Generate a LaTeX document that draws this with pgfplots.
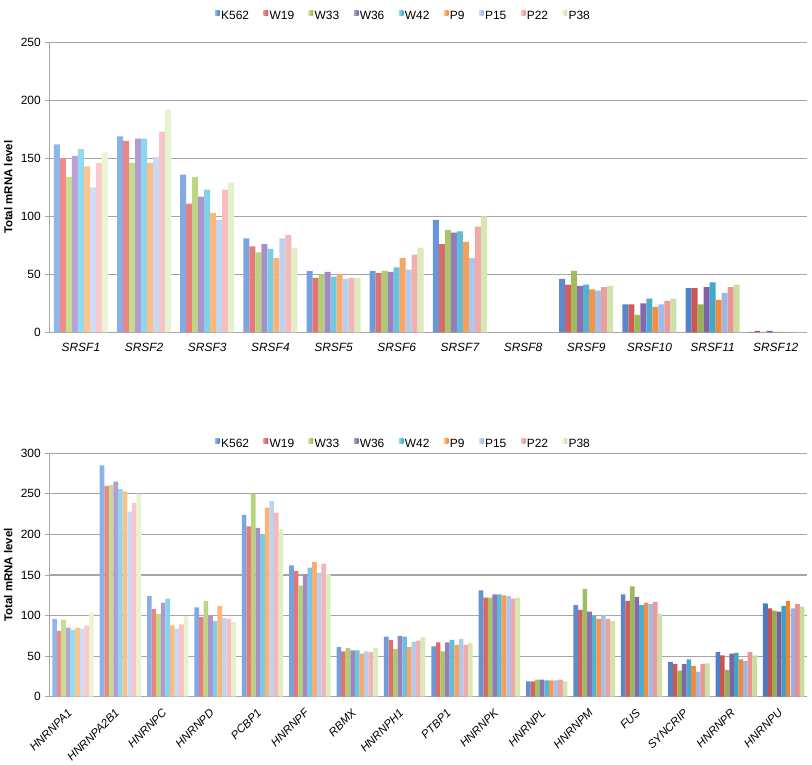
\documentclass[border=0pt]{standalone}
\usepackage{fontspec}
\setmainfont{Liberation Sans}
\usepackage{pgfplots}
\pgfplotsset{compat=1.18}
\usepackage{pgfplotstable}

\definecolor{gridc}{HTML}{A6A6A6}
\definecolor{Ka}{HTML}{8FB6EC}\definecolor{Kb}{HTML}{4A7BC4}
\definecolor{Aa}{HTML}{EE8C89}\definecolor{Ab}{HTML}{C8504C}
\definecolor{Ba}{HTML}{C8DF92}\definecolor{Bb}{HTML}{8FB04A}
\definecolor{Ca}{HTML}{B8A2D8}\definecolor{Cb}{HTML}{7A5CA2}
\definecolor{Da}{HTML}{92DCF2}\definecolor{Db}{HTML}{3AA2C4}
\definecolor{Ea}{HTML}{FDC48E}\definecolor{Eb}{HTML}{F28232}
\definecolor{Fa}{HTML}{CCDDF7}\definecolor{Fb}{HTML}{96B4E2}
\definecolor{Ga}{HTML}{F9CACA}\definecolor{Gb}{HTML}{E88F8F}
\definecolor{Ha}{HTML}{EBF5D4}\definecolor{Hb}{HTML}{C5DC9A}

\pgfplotsset{
  sK/.style={left color=Ka, right color=Kb, draw=none},
  sA/.style={left color=Aa, right color=Ab, draw=none},
  sB/.style={left color=Ba, right color=Bb, draw=none},
  sC/.style={left color=Ca, right color=Cb, draw=none},
  sD/.style={left color=Da, right color=Db, draw=none},
  sE/.style={left color=Ea, right color=Eb, draw=none},
  sF/.style={left color=Fa, right color=Fb, draw=none},
  sG/.style={left color=Ga, right color=Gb, draw=none},
  sH/.style={left color=Ha, right color=Hb, draw=none},
  common/.style={
    scale only axis,
    width=758bp,
    ybar=0pt,
    axis lines*=left,
    axis line style={-, draw=gridc, line width=1.2bp},
    ymajorgrids,
    grid style={draw=gridc, line width=1.2bp},
    ymin=0,
    xtick style={draw=none},
    minor tick length=4bp,
    minor tick style={draw=gridc, line width=1bp},
    ytick style={draw=gridc, line width=1bp},
    major tick length=4bp,
    tick align=outside,
    /pgf/number format/assume math mode=true,
    tick label style={font=\fontsize{12}{14}\selectfont},
    yticklabel style={xshift=-1bp},
    every axis y label/.style={at={(rel axis cs:0,0.5)}, xshift=-41bp, rotate=90, anchor=center, font=\fontsize{11.5}{13}\selectfont\bfseries},
    ylabel={Total mRNA level},
    legend columns=9,
    legend style={draw=none, fill=none, font=\fontsize{12}{14}\selectfont,
      /tikz/every even column/.append style={column sep=13bp},
      nodes={inner sep=1.5bp}},
    legend image code/.code={\path[##1] (0bp,0.5bp) rectangle (4.5bp,5bp);},
  }
}

\pgfplotstableread{
x K W19 W33 W36 W42 P9 P15 P22 P38
0 162 150 134 152 158 143 125 146 155
1 169 165 146 167 167 146 151 173 192
2 136 111 134 117 123 103 97 123 129
3 81 74 69 76 72 64 81 84 73
4 53 47 50 52 48 50 46 47 47
5 53 51 53 52 56 64 54 67 73
6 97 76 88 86 87 78 64 91 100
7 nan nan nan nan nan nan nan nan nan
8 46 41 53 40 41 37 36 39 40
9 24 24 15 25 29 22 24 27 29
10 38 38 24 39 43 28 34 39 41
11 0.3 1.2 0.3 1.2 0.3 0.3 0.3 0.3 0.3
}\srsf

\pgfplotstableread{
x K W19 W33 W36 W42 P9 P15 P22 P38
0 96 81 95 85 82 85 84 88 104
1 285 260 261 265 256 253 228 239 250
2 124 108 102 116 121 88 84 89 99
3 110 98 118 100 93 112 97 96 92
4 224 210 250 208 200 233 241 227 207
5 162 155 137 151 159 166 153 164 151
6 61 56 60 57 57 53 56 55 60
7 74 70 59 75 74 61 68 69 73
8 62 67 56 67 70 64 71 64 66
9 131 122 122 126 126 125 124 121 122
10 19 19 21 21 20 20 20 21 19
11 113 107 133 105 100 96 101 96 93
12 126 118 136 123 113 116 114 117 102
13 43 40 32 40 46 38 31 40 41
14 55 51 33 53 54 46 44 55 51
15 115 109 106 105 112 118 109 114 111
}\hnrnp

\begin{document}
\begin{tikzpicture}
\useasboundingbox (-49.3bp,-68.3bp) rectangle (762.7bp,696.7bp);
% top panel
\begin{axis}[common,
  at={(0bp,364.4bp)},
  height=290bp,
  ymax=250, ytick={0,50,...,250},
  xmin=-0.5, xmax=11.5,
  bar width=6bp,
  xtick={0,1,...,11},
  minor xtick={-0.5,0.5,...,11.5},
  xticklabels={SRSF1,SRSF2,SRSF3,SRSF4,SRSF5,SRSF6,SRSF7,SRSF8,SRSF9,SRSF10,SRSF11,SRSF12},
  xticklabel style={font=\fontsize{12}{14}\selectfont\itshape, yshift=-3bp},
  legend style={at={(0.5,1)}, anchor=south, xshift=-25bp, yshift=18bp},
]
\addplot[sK] table[x=x,y=K]{\srsf};
\addplot[sA] table[x=x,y=W19]{\srsf};
\addplot[sB] table[x=x,y=W33]{\srsf};
\addplot[sC] table[x=x,y=W36]{\srsf};
\addplot[sD] table[x=x,y=W42]{\srsf};
\addplot[sE] table[x=x,y=P9]{\srsf};
\addplot[sF] table[x=x,y=P15]{\srsf};
\addplot[sG] table[x=x,y=P22]{\srsf};
\addplot[sH] table[x=x,y=P38]{\srsf};
\legend{K562,W19,W33,W36,W42,P9,P15,P22,P38}
\end{axis}
% bottom panel
\begin{axis}[common,
  at={(0bp,0bp)},
  height=243.4bp,
  ymax=300, ytick={0,50,...,300},
  xmin=-0.5, xmax=15.5,
  bar width=4.6bp,
  xtick={0,1,...,15},
  minor xtick={-0.5,0.5,...,15.5},
  xticklabels={HNRNPA1,HNRNPA2B1,HNRNPC,HNRNPD,PCBP1,HNRNPF,RBMX,HNRNPH1,PTBP1,HNRNPK,HNRNPL,HNRNPM,FUS,SYNCRIP,HNRNPR,HNRNPU},
  xticklabel style={font=\fontsize{11.5}{13}\selectfont\itshape, rotate=45, anchor=east, xshift=-6bp, yshift=-5bp},
  legend style={at={(0.5,1)}, anchor=south, xshift=-25bp, yshift=1bp},
]
\addplot[sK] table[x=x,y=K]{\hnrnp};
\addplot[sA] table[x=x,y=W19]{\hnrnp};
\addplot[sB] table[x=x,y=W33]{\hnrnp};
\addplot[sC] table[x=x,y=W36]{\hnrnp};
\addplot[sD] table[x=x,y=W42]{\hnrnp};
\addplot[sE] table[x=x,y=P9]{\hnrnp};
\addplot[sF] table[x=x,y=P15]{\hnrnp};
\addplot[sG] table[x=x,y=P22]{\hnrnp};
\addplot[sH] table[x=x,y=P38]{\hnrnp};
\legend{K562,W19,W33,W36,W42,P9,P15,P22,P38}
\end{axis}
\end{tikzpicture}
\end{document}
